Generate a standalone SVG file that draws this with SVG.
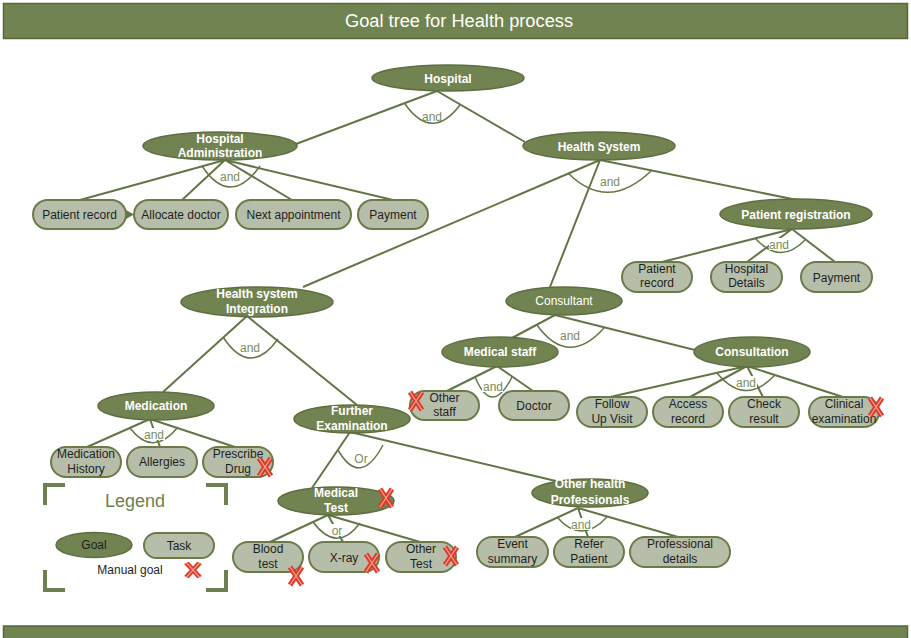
<svg xmlns="http://www.w3.org/2000/svg" xmlns:xlink="http://www.w3.org/1999/xlink" width="911" height="638" viewBox="0 0 911 638">
<style>
.bar{fill:#718350;stroke:#56673a;stroke-width:1.5}
.goal{fill:#718350;stroke:#5d6e3f;stroke-width:1.5}
.task{fill:#b6bea9;stroke:#6a7b48;stroke-width:2}
.gt{font-family:"Liberation Sans",Arial,sans-serif;font-size:12px;font-weight:bold;fill:#fff;text-anchor:middle}
.gr{font-family:"Liberation Sans",Arial,sans-serif;font-size:12px;fill:#fff;text-anchor:middle}
.tt{font-family:"Liberation Sans",Arial,sans-serif;font-size:12px;fill:#1e1e1e;text-anchor:middle}
.ln{stroke:#637547;stroke-width:2;fill:none}
.arc{stroke:#637547;stroke-width:1.5;fill:none}
.lab{font-family:"Liberation Sans",Arial,sans-serif;font-size:12px;fill:#7c8c5c;text-anchor:middle}
.lbg{fill:#fff}
.brk{fill:#6f8050}
</style>
<defs>
<g id="redx">
<path d="M-6,-9 L6,9 M6,-9 L-6,9" stroke="#e0382b" stroke-width="5" fill="none"/>
<path d="M-6,-9 L6,9 M6,-9 L-6,9" stroke="#f4a58a" stroke-width="1.3" fill="none"/>
</g>
</defs>
<rect width="911" height="638" fill="#fff"/>
<g id="title">
<rect class="bar" x="3.5" y="3.5" width="904" height="35"/>
<text x="459" y="27" font-family="'Liberation Sans',Arial,sans-serif" font-size="18" fill="#fff" text-anchor="middle" textLength="228" lengthAdjust="spacingAndGlyphs">Goal tree for Health process</text>
</g>
<rect id="footer" class="bar" x="3.5" y="626" width="904" height="14"/>

<g id="connectors">
<path class="ln" d="M437,91 L296,144 M437,91 L525,142"/>
<path class="ln" d="M225,160 L80,200 M225,160 L182,200 M225,160 L292,200 M225,160 L393,200"/>
<path class="ln" d="M600,160 L303,287 M600,160 L550,287 M600,160 L797,200"/>
<path class="ln" d="M792,229 L662,262 M792,229 L747,262 M792,229 L835,262"/>
<path class="ln" d="M555,315 L512,338 M555,315 L695,350"/>
<path class="ln" d="M497,366 L447,391 M497,366 L533,391"/>
<path class="ln" d="M747,366 L610,397 M747,366 L690,397 M747,366 L763,397 M747,366 L843,397"/>
<path class="ln" d="M247,316 L163,392 M247,316 L357,405"/>
<path class="ln" d="M150,419 L87,447 M150,419 L160,447 M150,419 L238,448"/>
<path class="ln" d="M350,432 L312,488 M350,432 L560,482"/>
<path class="ln" d="M328,515 L270,542 M328,515 L343,542 M328,515 L420,542"/>
<path class="ln" d="M578,508 L515,537 M578,508 L588,537 M578,508 L678,537"/>
<polygon points="125,209.5 134,214.5 125,219.5" fill="#637547"/>

<path class="arc" d="M405,104 Q432,142 460,105"/>
<path class="arc" d="M202,166 Q230,208 260,166"/>
<path class="arc" d="M568,173 Q608,213 652,170"/>
<path class="arc" d="M755,238 Q780,266 805,240"/>
<path class="arc" d="M537,325 Q568,368 604,328"/>
<path class="arc" d="M475,377 Q492,417 512,377"/>
<path class="arc" d="M717,373 Q745,407 775,375"/>
<path class="arc" d="M223,337 Q250,378 278,339"/>
<path class="arc" d="M130,428 Q153,458 178,427"/>
<path class="arc" d="M338,450 Q360,488 383,445"/>
<path class="arc" d="M313,522 Q337,554 360,523"/>
<path class="arc" d="M557,517 Q581,545 607,517"/>

<rect class="lbg" x="769" y="238" width="21" height="12"/>
<rect class="lbg" x="736" y="376" width="21" height="12"/>
<rect class="lbg" x="144" y="428" width="21" height="12"/>
<rect class="lbg" x="331" y="524" width="13" height="12"/>
<rect class="lbg" x="571" y="518" width="21" height="12"/>
<rect class="lbg" x="482" y="380" width="21" height="12"/>

<text class="lab" x="432" y="121">and</text>
<text class="lab" x="230" y="181">and</text>
<text class="lab" x="610" y="186">and</text>
<text class="lab" x="779" y="249">and</text>
<text class="lab" x="570" y="340">and</text>
<text class="lab" x="493" y="391">and</text>
<text class="lab" x="746" y="387">and</text>
<text class="lab" x="250" y="352">and</text>
<text class="lab" x="154" y="439">and</text>
<text class="lab" x="361" y="463">Or</text>
<text class="lab" x="337" y="535">or</text>
<text class="lab" x="581" y="529">and</text>
</g>

<g id="n-hospital"><ellipse class="goal" cx="448" cy="78" rx="76" ry="13"/><text class="gt" x="448" y="83">Hospital</text></g>
<g id="n-hospital-admin"><ellipse class="goal" cx="220" cy="146" rx="77" ry="14"/><text class="gt" x="220" y="143">Hospital</text><text class="gt" x="220" y="157">Administration</text></g>
<g id="n-health-system"><ellipse class="goal" cx="599" cy="146" rx="76" ry="14"/><text class="gt" x="599" y="151">Health System</text></g>
<g id="n-patient-registration"><ellipse class="goal" cx="796" cy="214" rx="76" ry="15"/><text class="gt" x="796" y="219">Patient registration</text></g>
<g id="n-hsi"><ellipse class="goal" cx="257" cy="302" rx="76" ry="15"/><text class="gt" x="257" y="298">Health system</text><text class="gt" x="257" y="313">Integration</text></g>
<g id="n-consultant"><ellipse class="goal" cx="564" cy="301" rx="58" ry="14"/><text class="gr" x="564" y="305">Consultant</text></g>
<g id="n-medical-staff"><ellipse class="goal" cx="500" cy="352" rx="58" ry="15"/><text class="gt" x="500" y="356">Medical staff</text></g>
<g id="n-consultation"><ellipse class="goal" cx="752" cy="352" rx="58" ry="15"/><text class="gt" x="752" y="356">Consultation</text></g>
<g id="n-medication"><ellipse class="goal" cx="156" cy="406" rx="58" ry="14"/><text class="gt" x="156" y="410">Medication</text></g>
<g id="n-further-exam"><ellipse class="goal" cx="352" cy="419" rx="58" ry="14"/><text class="gt" x="352" y="415">Further</text><text class="gt" x="352" y="430">Examination</text></g>
<g id="n-medical-test"><ellipse class="goal" cx="336" cy="501" rx="58" ry="14"/><text class="gt" x="336" y="497">Medical</text><text class="gt" x="336" y="512">Test</text><use xlink:href="#redx" x="386" y="498"/></g>
<g id="n-other-health"><ellipse class="goal" cx="590" cy="493" rx="58" ry="14"/><text class="gt" x="590" y="488">Other health</text><text class="gt" x="590" y="504">Professionals</text></g>

<g id="t-patient-record"><rect class="task" x="33" y="200" width="93" height="29" rx="14.5"/><text class="tt" x="79.5" y="219">Patient record</text></g>
<g id="t-allocate-doctor"><rect class="task" x="134" y="200" width="94" height="29" rx="14.5"/><text class="tt" x="181" y="219">Allocate doctor</text></g>
<g id="t-next-appointment"><rect class="task" x="236" y="200" width="115" height="29" rx="14.5"/><text class="tt" x="293.5" y="219">Next appointment</text></g>
<g id="t-payment"><rect class="task" x="358" y="200" width="70" height="29" rx="14.5"/><text class="tt" x="393" y="219">Payment</text></g>

<g id="t-patient-record-2"><rect class="task" x="622" y="262" width="70" height="30" rx="15"/><text class="tt" x="657" y="273">Patient</text><text class="tt" x="657" y="287">record</text></g>
<g id="t-hospital-details"><rect class="task" x="711" y="262" width="71" height="30" rx="15"/><text class="tt" x="746.5" y="273">Hospital</text><text class="tt" x="746.5" y="287">Details</text></g>
<g id="t-payment-2"><rect class="task" x="801" y="262" width="71" height="30" rx="15"/><text class="tt" x="836.5" y="282">Payment</text></g>

<g id="t-other-staff"><rect class="task" x="410" y="391" width="69" height="29" rx="14.5"/><text class="tt" x="444.5" y="402">Other</text><text class="tt" x="444.5" y="416">staff</text><use xlink:href="#redx" x="416" y="401"/></g>
<g id="t-doctor"><rect class="task" x="499" y="391" width="70" height="29" rx="14.5"/><text class="tt" x="534" y="410">Doctor</text></g>
<g id="t-follow-up"><rect class="task" x="577" y="397" width="70" height="30" rx="15"/><text class="tt" x="612" y="408">Follow</text><text class="tt" x="612" y="423">Up Visit</text></g>
<g id="t-access-record"><rect class="task" x="653" y="397" width="70" height="30" rx="15"/><text class="tt" x="688" y="408">Access</text><text class="tt" x="688" y="423">record</text></g>
<g id="t-check-result"><rect class="task" x="729" y="397" width="70" height="30" rx="15"/><text class="tt" x="764" y="408">Check</text><text class="tt" x="764" y="423">result</text></g>
<g id="t-clinical"><rect class="task" x="809" y="397" width="70" height="30" rx="15"/><text class="tt" x="844" y="408">Clinical</text><text class="tt" x="844" y="423">examination</text><use xlink:href="#redx" x="876" y="407"/></g>

<g id="t-med-history"><rect class="task" x="51" y="447" width="70" height="30" rx="15"/><text class="tt" x="86" y="458">Medication</text><text class="tt" x="86" y="473">History</text></g>
<g id="t-allergies"><rect class="task" x="127" y="447" width="70" height="30" rx="15"/><text class="tt" x="162" y="466">Allergies</text></g>
<g id="t-prescribe"><rect class="task" x="203" y="447" width="70" height="30" rx="15"/><text class="tt" x="238" y="458">Prescribe</text><text class="tt" x="238" y="473">Drug</text><use xlink:href="#redx" x="265" y="467"/></g>

<g id="t-blood-test"><rect class="task" x="233" y="542" width="70" height="30" rx="15"/><text class="tt" x="268" y="553">Blood</text><text class="tt" x="268" y="568">test</text><use xlink:href="#redx" x="296" y="576"/></g>
<g id="t-xray"><rect class="task" x="309" y="542" width="70" height="30" rx="15"/><text class="tt" x="344" y="562">X-ray</text><use xlink:href="#redx" x="372" y="563"/></g>
<g id="t-other-test"><rect class="task" x="386" y="542" width="70" height="30" rx="15"/><text class="tt" x="421" y="553">Other</text><text class="tt" x="421" y="568">Test</text><use xlink:href="#redx" x="451" y="556"/></g>

<g id="t-event-summary"><rect class="task" x="477" y="537" width="71" height="30" rx="15"/><text class="tt" x="512.5" y="548">Event</text><text class="tt" x="512.5" y="563">summary</text></g>
<g id="t-refer-patient"><rect class="task" x="554" y="537" width="70" height="30" rx="15"/><text class="tt" x="589" y="548">Refer</text><text class="tt" x="589" y="563">Patient</text></g>
<g id="t-prof-details"><rect class="task" x="630" y="537" width="100" height="30" rx="15"/><text class="tt" x="680" y="548">Professional</text><text class="tt" x="680" y="563">details</text></g>

<g id="legend">
<rect class="brk" x="43" y="483" width="4" height="22"/><rect class="brk" x="43" y="483" width="22" height="4"/>
<rect class="brk" x="224" y="483" width="4" height="22"/><rect class="brk" x="206" y="483" width="22" height="4"/>
<rect class="brk" x="43" y="570" width="4" height="22"/><rect class="brk" x="43" y="588" width="22" height="4"/>
<rect class="brk" x="224" y="570" width="4" height="22"/><rect class="brk" x="206" y="588" width="22" height="4"/>
<text x="135" y="507" font-family="'Liberation Sans',Arial,sans-serif" font-size="18" fill="#6f8050" text-anchor="middle">Legend</text>
<ellipse class="goal" cx="94" cy="545" rx="38" ry="12.5"/><text class="tt" x="94" y="549">Goal</text>
<rect class="task" x="144" y="533" width="70" height="25" rx="12.5"/><text class="tt" x="179" y="550">Task</text>
<text class="tt" x="130" y="574">Manual goal</text>
<use xlink:href="#redx" transform="translate(193,570) scale(1.1,0.8)"/>
</g>
</svg>
